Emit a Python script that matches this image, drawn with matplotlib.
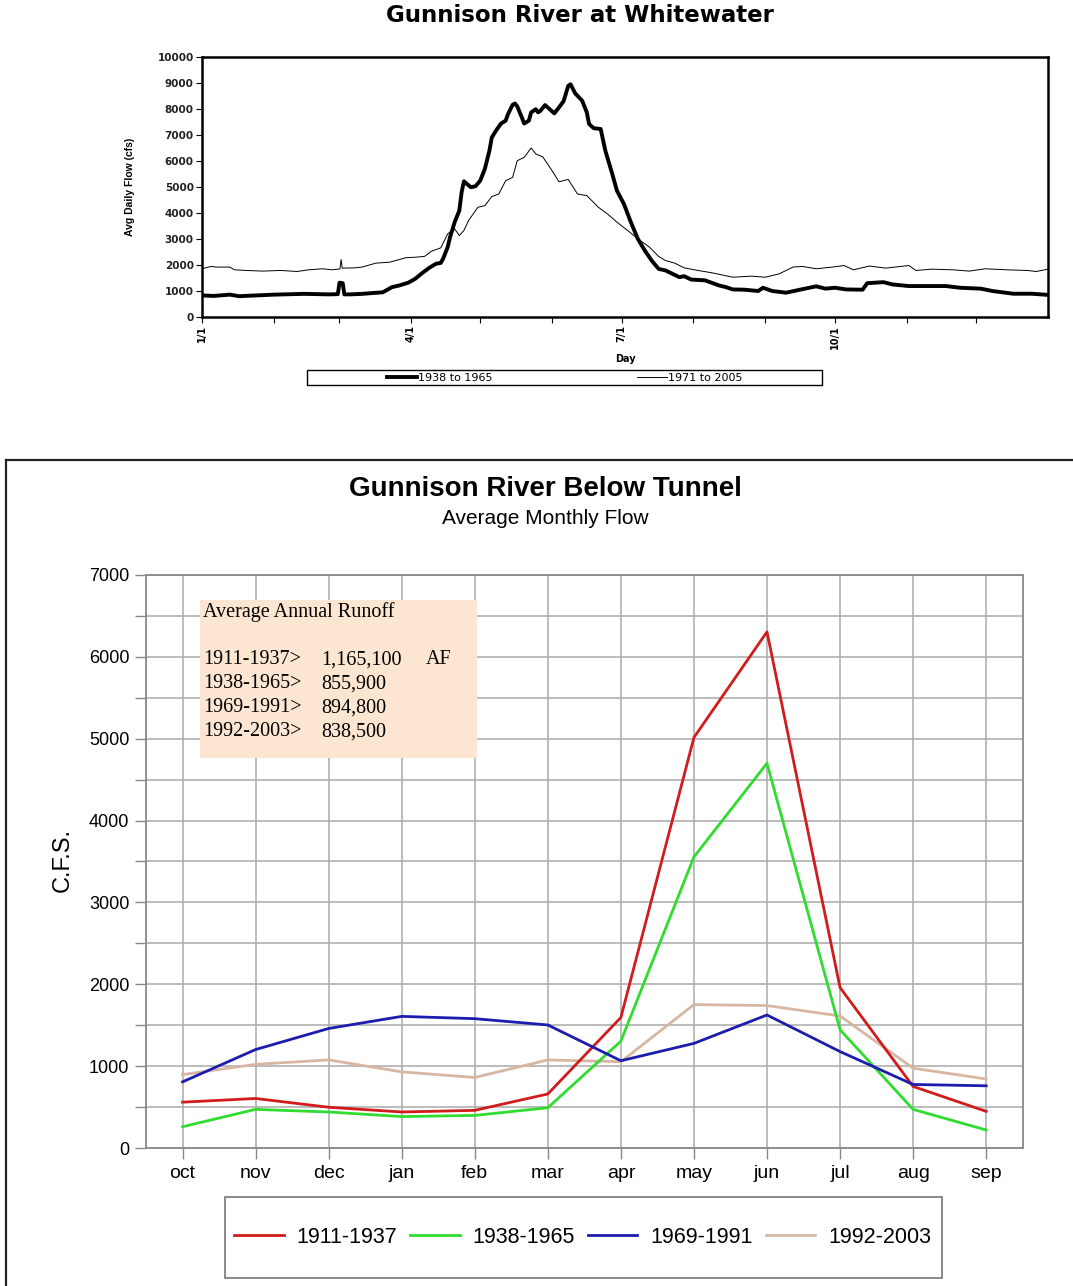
import numpy as np
import matplotlib
matplotlib.use("Agg")
from matplotlib import pyplot as plt
from matplotlib.patches import Rectangle
from matplotlib.lines import Line2D

# --- top chart: Gunnison River at Whitewater (daily) ---
days_old = [0, 5, 12, 16, 31, 44, 55, 58.6, 59.3, 60.7, 61.4, 64, 69, 78, 80, 82, 85, 89, 92, 95,
            98, 101, 103, 104, 106, 107, 109, 111, 112, 113, 114, 116, 118, 120, 122, 124, 125, 127,
            129, 131, 132, 134, 135, 136, 138, 139, 141, 142, 144, 145, 146, 148, 150, 152, 154, 156,
            158, 159, 161, 164, 166, 167, 169, 172, 174, 177, 179, 182, 185, 188, 191, 194, 197, 200,
            203, 206, 208, 211, 217, 223, 226, 229, 234, 240, 242, 246, 252, 258, 265, 269, 273, 278,
            285, 287, 294, 298, 305, 312, 321, 327, 336, 341, 350, 358, 365]
flow_old = [830, 810, 860, 800, 860, 890, 870, 880, 1320, 1300, 870, 870, 890, 950, 1050, 1150, 1210,
            1320, 1470, 1690, 1890, 2050, 2080, 2240, 2690, 3070, 3650, 4090, 4800, 5220, 5140, 4990,
            5030, 5240, 5690, 6400, 6900, 7190, 7440, 7550, 7800, 8160, 8210, 8100, 7670, 7440, 7550,
            7870, 7990, 7870, 7930, 8150, 7990, 7830, 8060, 8300, 8890, 8950, 8600, 8320, 7870, 7420,
            7260, 7230, 6400, 5500, 4860, 4350, 3650, 3010, 2560, 2170, 1850, 1790, 1660, 1530, 1570,
            1440, 1410, 1215, 1150, 1060, 1050, 1000, 1125, 1000, 935, 1050, 1180, 1090, 1125, 1060,
            1050, 1300, 1340, 1250, 1190, 1190, 1190, 1125, 1090, 1000, 895, 895, 850]

days_new = [0, 4, 6, 12, 14, 19, 26, 34, 41, 46, 52, 56, 59.5, 60, 60.5, 66, 69, 75, 81, 88, 92, 96,
            99, 103, 106, 109, 111, 113, 115, 119, 122, 125, 128, 131, 134, 136, 139, 142, 144, 147,
            151, 154, 158, 162, 166, 171, 175, 179, 184, 188, 193, 197, 200, 204, 208, 214, 220, 229,
            237, 243, 249, 255, 259, 265, 272, 277, 281, 288, 295, 305, 308, 315, 324, 331, 338, 347,
            356, 360, 365]
flow_new = [1855, 1945, 1920, 1920, 1815, 1790, 1765, 1790, 1750, 1815, 1855, 1815, 1850, 2210, 1880,
            1890, 1920, 2070, 2110, 2280, 2300, 2330, 2530, 2660, 3200, 3390, 3130, 3330, 3710, 4220,
            4280, 4630, 4730, 5240, 5370, 6010, 6140, 6500, 6270, 6160, 5630, 5200, 5290, 4730, 4670,
            4220, 3960, 3650, 3300, 3010, 2690, 2330, 2170, 2070, 1890, 1790, 1700, 1530, 1570, 1530,
            1660, 1920, 1945, 1855, 1920, 1980, 1815, 1960, 1880, 1980, 1790, 1840, 1815, 1765, 1855,
            1815, 1790, 1750, 1840]

month_starts = [0, 31, 59, 90, 120, 151, 181, 212, 243, 273, 304, 334]
day_labels = ["1/1", "", "", "4/1", "", "", "7/1", "", "", "10/1", "", ""]

# --- bottom chart: Gunnison River Below Tunnel (monthly) ---
months = ["oct", "nov", "dec", "jan", "feb", "mar", "apr", "may", "jun", "jul", "aug", "sep"]
flow_1911 = [560, 605, 498, 440, 460, 660, 1595, 5015, 6305, 1960, 752, 448]
flow_1938 = [260, 472, 440, 384, 398, 492, 1305, 3556, 4700, 1445, 472, 220]
flow_1969 = [808, 1203, 1460, 1608, 1580, 1503, 1066, 1278, 1625, 1178, 776, 760]
flow_1992 = [897, 1022, 1076, 930, 862, 1076, 1054, 1752, 1740, 1613, 975, 843]
runoff_periods = ["1911-1937>", "1938-1965>", "1969-1991>", "1992-2003>"]
runoff_af = ["1,165,100", "855,900", "894,800", "838,500"]

fig = plt.figure(figsize=(10.73, 12.86), dpi=100)

# ============ top chart ============
ax1 = fig.add_axes([0.1883, 0.7535, 0.7884, 0.2022])
ax1.plot(days_old, flow_old, color="black", lw=2.8, solid_joinstyle="round", label="1938 to 1965")
ax1.plot(days_new, flow_new, color="black", lw=0.7, label="1971 to 2005")
ax1.set_xlim(0, 365)
ax1.set_ylim(0, 10000)
ax1.set_yticks(range(0, 10001, 1000))
ax1.set_xticks(month_starts)
ax1.set_xticklabels(day_labels, rotation=90, fontsize=7, fontweight="bold")
for lab in ax1.get_yticklabels():
    lab.set_fontsize(7.5)
    lab.set_fontweight("bold")
    lab.set_color("#222222")
ax1.tick_params(axis="both", direction="out", length=4, width=0.8, pad=2)
for sp in ax1.spines.values():
    sp.set_linewidth(1.8)
ax1.set_ylabel("Avg Daily Flow (cfs)", fontsize=7.5, fontweight="bold", family="Liberation Sans")
ax1.yaxis.set_label_coords(-0.079, 0.5)
ax1.set_xlabel("Day", fontsize=7, fontweight="bold")
ax1.xaxis.set_label_coords(0.5, -0.142)

fig.text(0.5405, 0.9876, "Gunnison River at Whitewater", ha="center", va="center",
         fontsize=16.5, fontweight="bold", family="DejaVu Sans")

fig.patches.append(Rectangle((0.2861, 0.7006), 0.48, 0.01166, transform=fig.transFigure,
                             fill=False, edgecolor="black", lw=1.0))
fig.legend(handles=[Line2D([], [], color="black", lw=2.8), Line2D([], [], color="black", lw=0.7)],
           labels=["1938 to 1965", "1971 to 2005"], loc="center", bbox_to_anchor=(0.5266, 0.7064),
           ncol=2, frameon=False, fontsize=8, handlelength=2.7, handletextpad=0.1,
           columnspacing=13.0, borderpad=0)

# ============ panel border ============
fig.add_artist(Line2D([0.0056, 1.0], [0.6423, 0.6423], color="#222222", lw=1.6,
                      transform=fig.transFigure))
fig.add_artist(Line2D([0.0056, 0.0056], [0.0, 0.6423], color="#222222", lw=1.6,
                      transform=fig.transFigure))

# ============ bottom chart ============
narrow = ["Liberation Sans Narrow", "Liberation Sans"]
ax2 = fig.add_axes([0.1361, 0.1073, 0.817, 0.4456])
x = np.arange(len(months))
ax2.plot(x, flow_1911, color="#d01c1c", lw=2, label="1911-1937", zorder=5)
ax2.plot(x, flow_1938, color="#2fdc2f", lw=2, label="1938-1965", zorder=5)
ax2.plot(x, flow_1969, color="#1c1cae", lw=2, label="1969-1991", zorder=5)
ax2.plot(x, flow_1992, color="#d8b7a2", lw=2, label="1992-2003", zorder=4)
ax2.set_xlim(-0.5, 11.5)
ax2.set_ylim(0, 7000)
ax2.set_xticks(x)
ax2.set_xticklabels(months, fontsize=14, family="Liberation Sans")
ax2.set_yticks(range(0, 7001, 1000))
ax2.set_yticks(range(500, 7000, 1000), minor=True)
for lab in ax2.get_yticklabels():
    lab.set_fontsize(13)
    lab.set_family("Liberation Sans")
ax2.tick_params(axis="both", which="both", direction="out", length=8, width=1, color="#888888",
                pad=4)
ax2.grid(True, which="both", color="#aaaaaa", lw=1.1)
ax2.set_axisbelow(True)
for sp in ax2.spines.values():
    sp.set_color("#888888")
    sp.set_linewidth(1.3)
ax2.set_ylabel("C.F.S.", fontsize=17, family="Liberation Sans")
ax2.yaxis.set_label_coords(-0.083, 0.503)

ax2.add_patch(Rectangle((0.0616, 0.6806), 0.316, 0.2758, transform=ax2.transAxes,
                        facecolor="#fce6d2", edgecolor="none", zorder=3))
serif = "Liberation Serif"
ax2.text(0.065, 0.9354, "Average Annual Runoff", transform=ax2.transAxes, fontsize=14.5,
         family=serif, va="center", ha="left", zorder=6)
ys = [0.8517, 0.81, 0.768, 0.726]
for i in range(len(runoff_periods)):
    ax2.text(0.065, ys[i], runoff_periods[i], transform=ax2.transAxes, fontsize=14.5,
             family=serif, va="center", ha="left", zorder=6)
    ax2.text(0.1996, ys[i], runoff_af[i], transform=ax2.transAxes, fontsize=14.5,
             family=serif, va="center", ha="left", zorder=6)
ax2.text(0.3193, ys[0], "AF", transform=ax2.transAxes, fontsize=14.5, family=serif,
         va="center", ha="left", zorder=6)

fig.text(0.508, 0.6198, "Gunnison River Below Tunnel", ha="center", va="center",
         fontsize=20, fontweight="bold", family=narrow)
fig.text(0.508, 0.5972, "Average Monthly Flow", ha="center", va="center",
         fontsize=15, family=narrow)

fig.patches.append(Rectangle((0.2097, 0.00622), 0.6682, 0.063, transform=fig.transFigure,
                             fill=False, edgecolor="#777777", lw=1.2))
h, l = ax2.get_legend_handles_labels()
fig.legend(h, l, loc="center", bbox_to_anchor=(0.5429, 0.0381), ncol=4, frameon=False,
           handlelength=2.3, handletextpad=0.6, columnspacing=0.6,
           borderpad=0, prop={"family": "Liberation Sans", "size": 15.5})

fig.savefig("out.png", dpi=100)
